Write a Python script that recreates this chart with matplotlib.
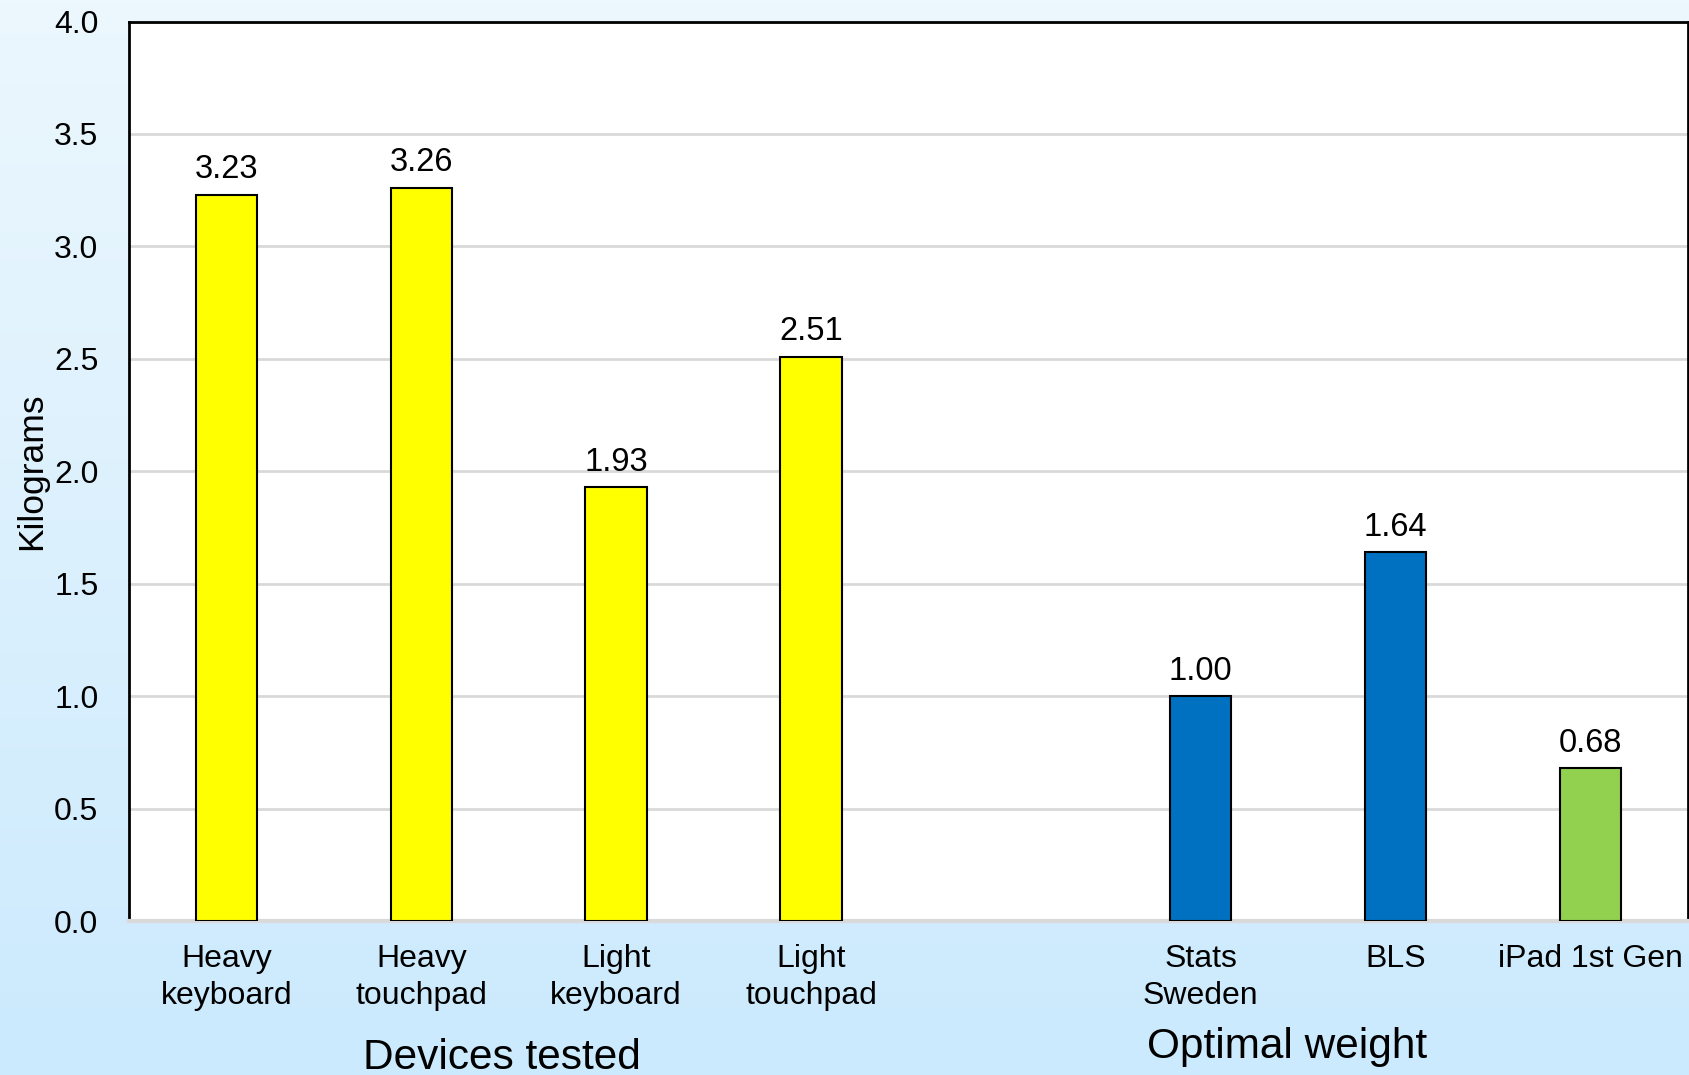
import numpy as np
import matplotlib.pyplot as plt

plt.rcParams['font.family'] = ['Liberation Sans', 'DejaVu Sans']

# weights in kg; slot 4 is left empty to split the two groups
labels = ["Heavy\nkeyboard", "Heavy\ntouchpad", "Light\nkeyboard", "Light\ntouchpad",
          "Stats\nSweden", "BLS", "iPad 1st Gen"]
weights = [3.23, 3.26, 1.93, 2.51, 1.00, 1.64, 0.68]
slots = [0, 1, 2, 3, 5, 6, 7]
colors = ["#FFFF00", "#FFFF00", "#FFFF00", "#FFFF00", "#0070C0", "#0070C0", "#92D050"]
groups = ["Devices tested", "Optimal weight"]

fig = plt.figure(figsize=(16.9, 10.75), dpi=100)

# light blue gradient behind everything
bg = fig.add_axes([0, 0, 1, 1], zorder=-10)
grad = np.linspace(0, 1, 256).reshape(-1, 1)
top = np.array([0xEC, 0xF7, 0xFE]) / 255
bot = np.array([0xCB, 0xEA, 0xFD]) / 255
img = top + (bot - top) * grad[:, :, None]
bg.imshow(img, aspect='auto', extent=[0, 1, 0, 1])
bg.axis('off')

ax = fig.add_axes([0.0763, 0.1428, 0.9225, 0.8372])
ax.set_facecolor('white')

bars = ax.bar(slots, weights, width=0.315, color=colors, edgecolor='black',
              linewidth=1.5, zorder=3)
for b, w in zip(bars, weights):
    ax.annotate(f"{w:.2f}", (b.get_x() + b.get_width() / 2, w),
                xytext=(0, 7), textcoords='offset points',
                ha='center', va='bottom', fontsize=23.5)

ax.set_xlim(-0.5, 7.5)
ax.set_ylim(0, 4.0)
ax.set_yticks(np.arange(0, 4.01, 0.5))
ax.set_yticklabels([f"{v:.1f}" for v in np.arange(0, 4.01, 0.5)])
ax.set_xticks(slots)
ax.set_xticklabels(labels, linespacing=1.3)
ax.tick_params(axis='y', length=0, pad=22, labelsize=23)
ax.tick_params(axis='x', length=0, pad=16, labelsize=23)

ax.grid(axis='y', color='#D9D9D9', linewidth=2, zorder=0)
ax.set_axisbelow(True)

for side in ['left', 'top', 'right']:
    ax.spines[side].set_color('black')
    ax.spines[side].set_linewidth(2)
ax.spines['bottom'].set_color('#D9D9D9')
ax.spines['bottom'].set_linewidth(3)

ax.set_ylabel("Kilograms", fontsize=25.5)
ax.yaxis.set_label_coords(-0.052, 0.5)

ax.text(0.239, -0.152, groups[0], transform=ax.transAxes,
        ha='center', va='center', fontsize=30.5)
ax.text(0.743, -0.139, groups[1], transform=ax.transAxes,
        ha='center', va='center', fontsize=30.5)

fig.savefig("out.png", dpi=100)
